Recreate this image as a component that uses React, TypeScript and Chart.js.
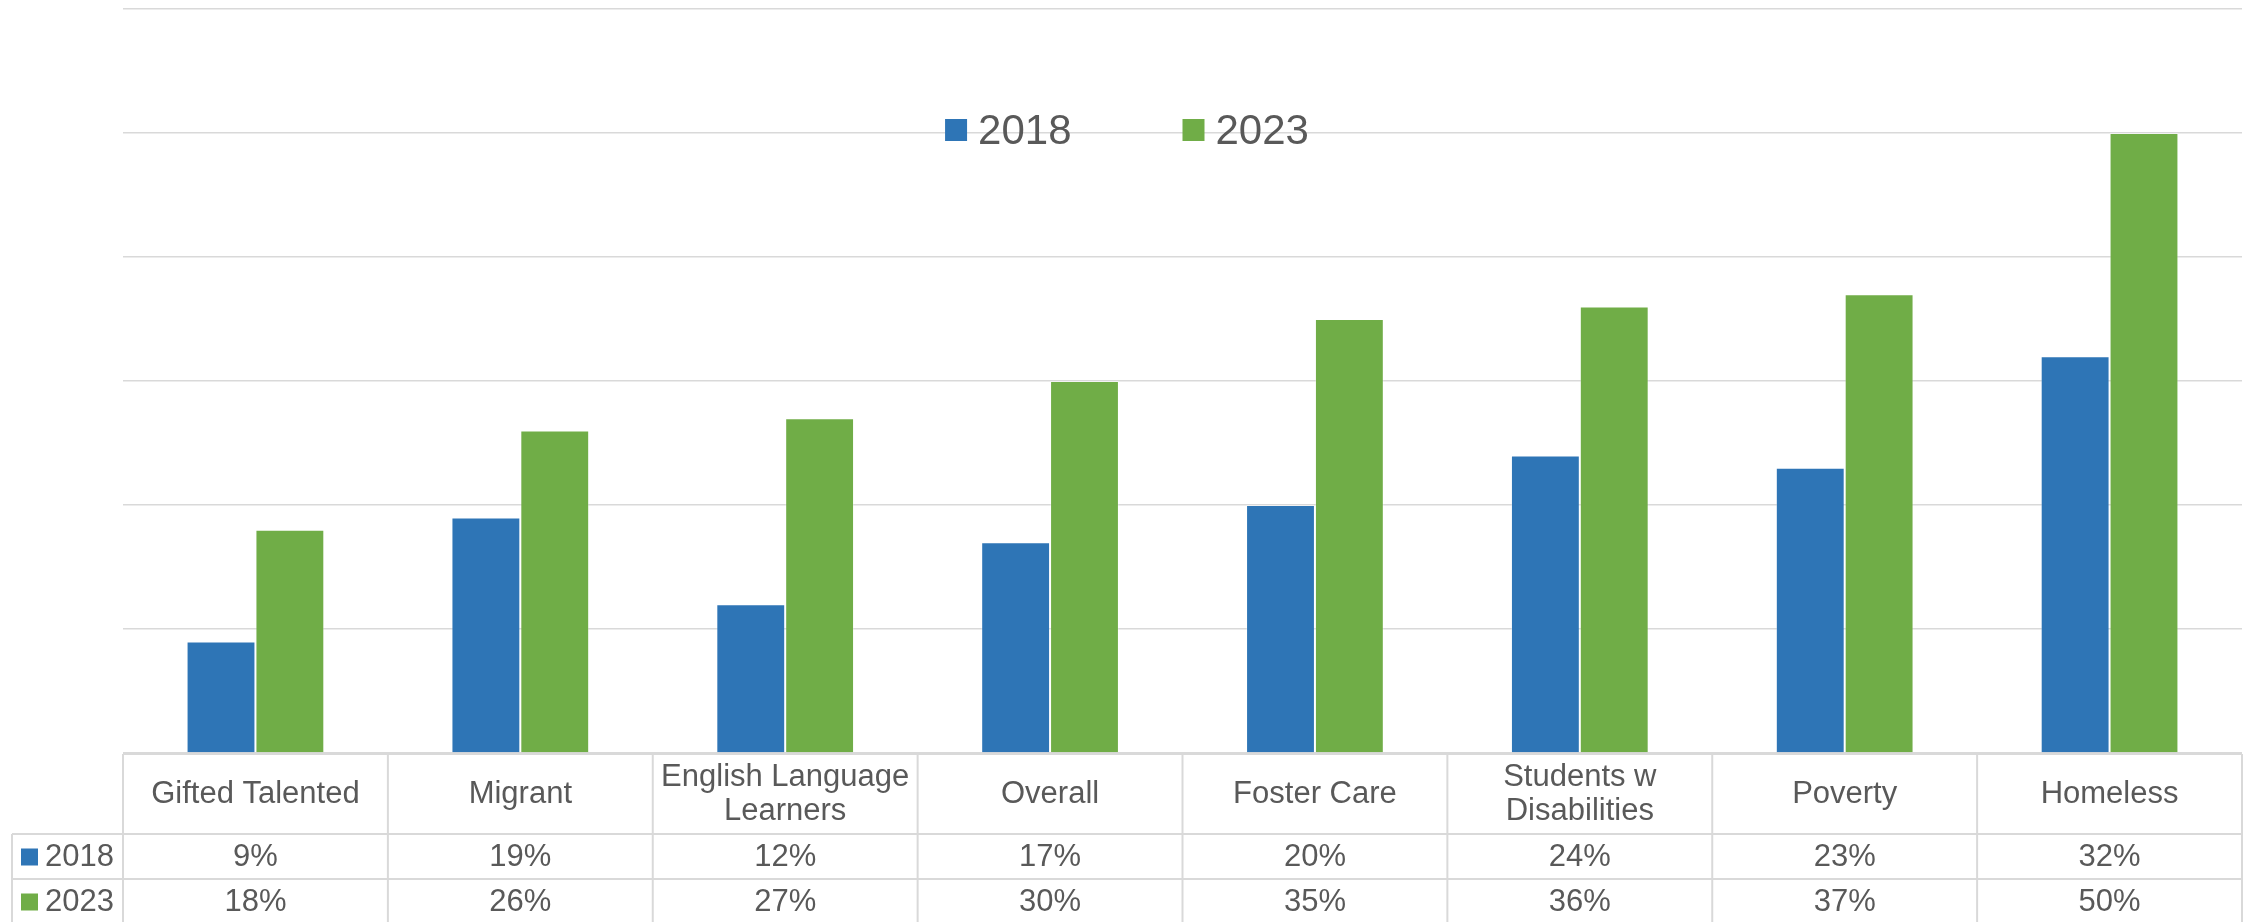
import React, { useEffect, useRef } from "react";
import { Chart, registerables } from "chart.js";

Chart.register(...registerables);

// ---- data ----
const categories: string[][] = [
  ["Gifted Talented"],
  ["Migrant"],
  ["English Language", "Learners"],
  ["Overall"],
  ["Foster Care"],
  ["Students w", "Disabilities"],
  ["Poverty"],
  ["Homeless"],
];
const seriesNames = ["2018", "2023"];
const values2018 = [9, 19, 12, 17, 20, 24, 23, 32];
const values2023 = [18, 26, 27, 30, 35, 36, 37, 50];
const seriesColors = ["#2E75B6", "#70AD47"];
const yMin = 0;
const yMax = 60;
const yStep = 10;

const FONT = '"Liberation Sans", Arial, sans-serif';
const TEXT = "#595959";
const LINE = "#D9D9D9";

const seriesValues = [values2018, values2023];

const legendPlugin = {
  id: "customLegend",
  afterDraw(chart: any) {
    const ctx = chart.ctx as CanvasRenderingContext2D;
    const W = chart.width;
    ctx.save();
    ctx.font = `42px ${FONT}`;
    const sq = 22;
    const gap = 11;
    const itemGap = 111;
    const widths = seriesNames.map((s) => ctx.measureText(s).width);
    const total =
      widths.reduce((a, b) => a + b, 0) +
      seriesNames.length * (sq + gap) +
      (seriesNames.length - 1) * itemGap;
    let x = (W - total) / 2;
    const sqTop = chart.chartArea.top + 110;
    const baseline = sqTop + 25;
    seriesNames.forEach((s, i) => {
      ctx.fillStyle = seriesColors[i];
      ctx.fillRect(x, sqTop, sq, sq);
      x += sq + gap;
      ctx.fillStyle = TEXT;
      ctx.textBaseline = "alphabetic";
      ctx.textAlign = "left";
      ctx.fillText(s, x, baseline);
      x += widths[i] + itemGap;
    });
    ctx.restore();
  },
};

const tablePlugin = {
  id: "dataTable",
  afterDraw(chart: any) {
    const ctx = chart.ctx as CanvasRenderingContext2D;
    const { left, right, bottom } = chart.chartArea;
    const xs = chart.scales.x;
    const n = categories.length;
    const colW = (right - left) / n;
    const headerH = 80;
    const rowH = 45;
    const labelLeft = 12;
    const top = bottom + 1;
    const r1 = top + headerH;
    const r2 = r1 + rowH;
    const r3 = r2 + rowH;
    ctx.save();
    ctx.strokeStyle = LINE;
    ctx.lineWidth = 2;
    const line = (x1: number, y1: number, x2: number, y2: number) => {
      ctx.beginPath();
      ctx.moveTo(x1, y1);
      ctx.lineTo(x2, y2);
      ctx.stroke();
    };
    line(left, top, right, top);
    line(labelLeft, r1, right, r1);
    line(labelLeft, r2, right, r2);
    line(labelLeft, r3, right, r3);
    for (let i = 0; i <= n; i++) {
      const x = left + i * colW;
      line(x, top, x, r3);
    }
    line(labelLeft, r1, labelLeft, r3);

    ctx.fillStyle = TEXT;
    ctx.font = `31px ${FONT}`;
    ctx.textAlign = "center";
    ctx.textBaseline = "middle";
    const lh = 34;
    categories.forEach((lines, i) => {
      const cx = xs.getPixelForValue(i);
      const cy = top + headerH / 2;
      const startY = cy - ((lines.length - 1) * lh) / 2;
      lines.forEach((t, j) => ctx.fillText(t, cx, startY + j * lh));
      seriesValues.forEach((vals, k) => {
        const ry = r1 + k * rowH + rowH / 2 + 1;
        ctx.fillText(`${vals[i]}%`, cx, ry);
      });
    });
    // row labels with keys
    seriesNames.forEach((s, k) => {
      const ry = r1 + k * rowH + rowH / 2;
      ctx.fillStyle = seriesColors[k];
      ctx.fillRect(21, ry - 8, 17, 17);
      ctx.fillStyle = TEXT;
      ctx.textAlign = "left";
      ctx.fillText(s, 45, ry + 1);
    });
    ctx.restore();
  },
};

export default function App() {
  const ref = useRef<HTMLCanvasElement | null>(null);
  useEffect(() => {
    if (!ref.current) return;
    const chart = new Chart(ref.current, {
      type: "bar",
      data: {
        labels: categories.map((c) => c.join(" ")),
        datasets: seriesNames.map((name, i) => ({
          label: name,
          data: seriesValues[i],
          backgroundColor: seriesColors[i],
          borderColor: "rgba(255,255,255,0.3)",
          borderWidth: 1,
          categoryPercentage: 0.52,
          barPercentage: 1,
        })),
      },
      options: {
        animation: false,
        responsive: false,
        devicePixelRatio: 1,
        layout: { padding: { left: 123, right: 12, top: 9, bottom: 169 } },
        plugins: {
          legend: { display: false },
          tooltip: { enabled: false },
        },
        scales: {
          x: { display: false },
          y: {
            min: yMin,
            max: yMax,
            ticks: { display: false, stepSize: yStep },
            border: { display: false },
            grid: { color: LINE, lineWidth: 1.5, drawTicks: false },
          },
        },
      },
      plugins: [legendPlugin, tablePlugin],
    });
    return () => chart.destroy();
  }, []);
  return (
    <div
      style={{
        position: "fixed",
        left: 0,
        top: 0,
        width: 2254,
        height: 922,
        background: "#fff",
      }}
    >
      <canvas
        ref={ref}
        width={2254}
        height={922}
        style={{ display: "block", width: 2254, height: 922 }}
      />
    </div>
  );
}
